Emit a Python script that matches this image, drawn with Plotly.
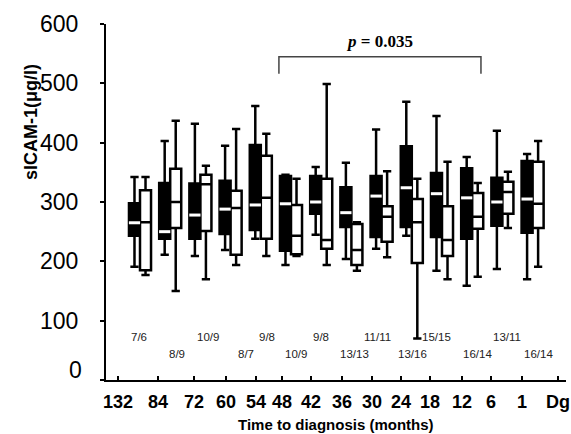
import numpy as np
import plotly.graph_objects as go

# ---- data ----
tick_labels = ["132", "84", "72", "60", "54", "48", "42", "36", "30", "24", "18", "12", "6", "1", "Dg"]
tick_pos = [0.27, 1.60, 2.79, 3.85, 4.84, 5.70, 6.66, 7.69, 8.68, 9.64, 10.60, 11.66, 12.62, 13.65, 14.84]

pair_pos = list(range(1, 15))

# black boxes (group A)
a_upper = [342, 403, 432, 395, 462, 346, 359, 366, 422, 469, 445, 376, 420, 381]
a_q3    = [298, 332, 331, 336, 396, 344, 344, 325, 344, 394, 349, 357, 341, 369]
a_med   = [265, 250, 278, 288, 295, 297, 300, 282, 310, 324, 314, 307, 300, 305]
a_q1    = [243, 238, 238, 246, 253, 218, 280, 258, 241, 258, 241, 238, 260, 248]
a_lower = [191, 211, 209, 219, 238, 194, 245, 204, 221, 243, 184, 159, 187, 170]

# white boxes (group B)
b_upper = [342, 437, 361, 423, 415, 339, 499, 266, 352, 339, 368, 332, 351, 403]
b_q3    = [320, 356, 346, 319, 378, 295, 339, 263, 293, 305, 293, 315, 334, 368]
b_med   = [266, 300, 330, 290, 307, 243, 236, 219, 275, 266, 236, 275, 317, 297]
b_q1    = [185, 256, 251, 211, 238, 212, 221, 194, 233, 197, 209, 255, 280, 256]
b_lower = [177, 150, 170, 194, 209, 209, 194, 184, 207, 70, 170, 174, 256, 191]

n_labels = ["7/6", "8/9", "10/9", "8/7", "9/8", "10/9", "9/8", "13/13", "11/11", "13/16", "15/15", "16/14", "13/11", "16/14"]
n_label_x = [0.98, 2.23, 3.24, 4.51, 5.21, 6.17, 6.99, 8.09, 8.85, 10.01, 10.83, 12.16, 13.15, 14.21]
n_label_y = [72, 44]  # upper / lower row

p_text = "<i>p</i> = 0.035"
bracket_x = [5.60, 12.29]
bracket_y = [545, 516]

# ---- figure ----
fig = go.Figure()
LW = 2.5
fig.add_trace(go.Box(
    x=pair_pos, q1=a_q1, median=a_med, q3=a_q3, lowerfence=a_lower, upperfence=a_upper,
    fillcolor="black", line=dict(color="black", width=LW), whiskerwidth=0.75,
    boxpoints=False, name="A", offsetgroup="A", hoverinfo="skip"))
fig.add_trace(go.Box(
    x=pair_pos, q1=b_q1, median=b_med, q3=b_q3, lowerfence=b_lower, upperfence=b_upper,
    fillcolor="white", line=dict(color="black", width=LW), whiskerwidth=0.75,
    boxpoints=False, name="B", offsetgroup="B", hoverinfo="skip"))

boxgap = 0.27
half = (1 - boxgap) / 4
fig.add_trace(go.Scatter(
    x=np.array(pair_pos) - half, y=a_med, mode="markers",
    marker=dict(symbol="line-ew", size=8, line=dict(color="white", width=3)),
    hoverinfo="skip", showlegend=False))

# significance bracket
fig.add_trace(go.Scatter(
    x=[bracket_x[0], bracket_x[0], bracket_x[1], bracket_x[1]],
    y=[bracket_y[1], bracket_y[0], bracket_y[0], bracket_y[1]],
    mode="lines", line=dict(color="#444", width=1.5),
    hoverinfo="skip", showlegend=False))

annotations = []
for i, (lab, xx) in enumerate(zip(n_labels, n_label_x)):
    annotations.append(dict(x=xx, y=n_label_y[i % 2], xref="x", yref="y", text=lab,
                            showarrow=False, font=dict(family="Liberation Sans", size=11.5, color="#222")))
annotations.append(dict(x=(bracket_x[0] + bracket_x[1]) / 2, y=570, xref="x", yref="y", text=p_text,
                        showarrow=False, font=dict(family="Liberation Serif", size=17, color="black", weight="bold")))
annotations.append(dict(x=0, y=0, xref="paper", yref="y", text="0", showarrow=False,
                        xanchor="right", yanchor="middle", xshift=-22, yshift=10,
                        font=dict(family="Liberation Sans", size=23, color="black")))
annotations.append(dict(x=-0.163, y=0.725, xref="paper", yref="paper", text="sICAM-1(μg/l)",
                        textangle=-90, showarrow=False, xanchor="center", yanchor="middle",
                        font=dict(family="Liberation Sans", size=18, color="black", weight="bold")))
annotations.append(dict(x=0.5, y=-0.126, xref="paper", yref="paper", text="Time to diagnosis (months)",
                        showarrow=False, xanchor="center", yanchor="middle",
                        font=dict(family="Liberation Sans", size=15, color="black", weight="bold")))

fig.update_layout(
    width=571, height=434,
    margin=dict(l=106, r=5, t=24, b=54, autoexpand=False),
    paper_bgcolor="white", plot_bgcolor="white",
    boxmode="group", boxgap=boxgap, boxgroupgap=0,
    showlegend=False,
    annotations=annotations,
    xaxis=dict(range=[-0.126, 15.106], tickvals=tick_pos, ticktext=tick_labels,
               ticks="inside", ticklen=4, tickwidth=1.5, tickcolor="black",
               showline=True, linecolor="black", linewidth=2, showgrid=False, zeroline=False,
               automargin=False, ticklabelstandoff=4,
               tickfont=dict(family="Liberation Sans", size=18, color="black", weight="bold")),
    yaxis=dict(range=[0, 600], tickvals=[0, 100, 200, 300, 400, 500, 600],
               ticktext=["", "100", "200", "300", "400", "500", "600"],
               ticks="outside", ticklen=4, tickwidth=1.5, tickcolor="black",
               showline=True, linecolor="black", linewidth=2, showgrid=False, zeroline=False,
               automargin=False, ticklabelstandoff=17,
               tickfont=dict(family="Liberation Sans", size=23, color="black")),
)

fig.write_html("out.html", config={"displayModeBar": False},
               post_script="document.documentElement.style.margin='0';document.body.style.margin='0';document.body.style.padding='0';document.body.style.overflow='hidden';")
